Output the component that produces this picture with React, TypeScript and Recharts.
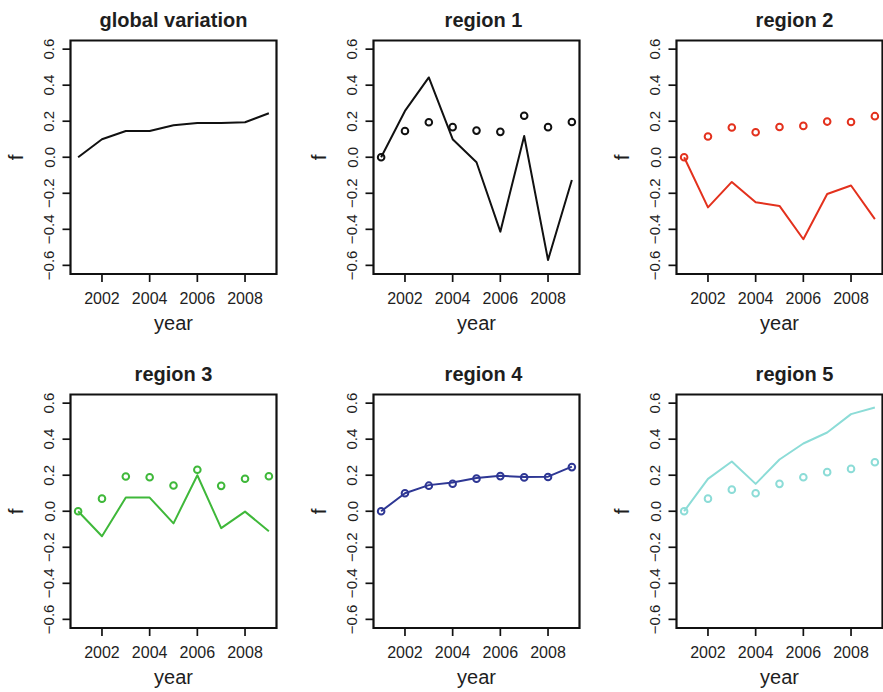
import { ComposedChart, Line, XAxis, YAxis, ReferenceArea } from 'recharts';

const years = [2001, 2002, 2003, 2004, 2005, 2006, 2007, 2008, 2009];
const xTicks = [2002, 2004, 2006, 2008];
const yTicks = [-0.6, -0.4, -0.2, 0, 0.2, 0.4, 0.6];
const yTickLabels = ['−0.6', '−0.4', '−0.2', '0.0', '0.2', '0.4', '0.6'];

const titles = ['global variation', 'region 1', 'region 2', 'region 3', 'region 4', 'region 5'];
const colors = ['#111111', '#111111', '#E3311D', '#3FB83A', '#2E3794', '#8CDCD7'];

const globalFit = [0, 0.1, 0.146, 0.146, 0.178, 0.19, 0.19, 0.194, 0.244];
const region1Fit = [0, 0.257, 0.443, 0.1, -0.028, -0.413, 0.118, -0.57, -0.126];
const region1Obs = [0, 0.146, 0.194, 0.167, 0.148, 0.141, 0.23, 0.167, 0.196];
const region2Fit = [0, -0.278, -0.137, -0.25, -0.27, -0.455, -0.204, -0.157, -0.343];
const region2Obs = [0, 0.115, 0.165, 0.139, 0.168, 0.174, 0.198, 0.196, 0.228];
const region3Fit = [0, -0.139, 0.076, 0.076, -0.067, 0.2, -0.094, -0.002, -0.111];
const region3Obs = [0, 0.07, 0.193, 0.189, 0.143, 0.23, 0.141, 0.18, 0.194];
const region4Fit = [0, 0.1, 0.145, 0.16, 0.185, 0.197, 0.19, 0.192, 0.248];
const region4Obs = [0, 0.1, 0.142, 0.153, 0.181, 0.195, 0.188, 0.19, 0.245];
const region5Fit = [0, 0.18, 0.276, 0.152, 0.287, 0.376, 0.437, 0.539, 0.576];
const region5Obs = [0, 0.07, 0.12, 0.1, 0.152, 0.189, 0.217, 0.235, 0.272];

const fits = [globalFit, region1Fit, region2Fit, region3Fit, region4Fit, region5Fit];
const obs: (number[] | null)[] = [null, region1Obs, region2Obs, region3Obs, region4Obs, region5Obs];

const FONT = '"Liberation Sans", Arial, Helvetica, sans-serif';
const TEXT = '#1e1e1e';
const colLeft = [0, 302.5, 605.5];
const rowTop = [0, 353.5];
const titleDx = [0, 7, 15];
const PLOT_W = 206;
const PLOT_H = 233.5;

function YTick({ x, y, payload }: any) {
  const i = yTicks.indexOf(payload.value);
  return (
    <text
      x={x}
      y={y}
      transform={`rotate(-90 ${x} ${y})`}
      textAnchor="middle"
      fontSize={15}
      fontFamily={FONT}
      fill={TEXT}
    >
      {i >= 0 ? yTickLabels[i] : payload.value}
    </text>
  );
}

function XTick({ x, y, payload }: any) {
  return (
    <text x={x} y={y + 22} textAnchor="middle" fontSize={16} fontFamily={FONT} fill={TEXT}>
      {payload.value}
    </text>
  );
}

function PanelText({ viewBox, title, col }: any) {
  const { x, y, width, height } = viewBox;
  const fx = x - 48;
  const fy = y + height / 2;
  return (
    <g fontFamily={FONT} fill={TEXT}>
      <text x={x + width / 2 + titleDx[col]} y={y - 14} textAnchor="middle" fontSize={20} fontWeight="bold">
        {title}
      </text>
      <text x={fx} y={fy} transform={`rotate(-90 ${fx} ${fy})`} textAnchor="middle" fontSize={21}>
        f
      </text>
      <text x={x + width / 2} y={y + height + 56} textAnchor="middle" fontSize={20}>
        year
      </text>
    </g>
  );
}

function Panel({ index }: { index: number }) {
  const col = index % 3;
  const row = Math.floor(index / 3);
  const width = col === 2 ? 277.5 : 300;
  const height = 338;
  const color = colors[index];
  const points = obs[index];
  const data = years.map((year, i) => ({
    year,
    fit: fits[index][i],
    obs: points ? points[i] : null,
  }));

  return (
    <div style={{ position: 'absolute', left: colLeft[col], top: rowTop[row] }}>
      <ComposedChart
        width={width}
        height={height}
        data={data}
        margin={{ top: 40.5, left: 30.5, right: width - 70.5 - PLOT_W, bottom: height - 40.5 - PLOT_H - 30 }}
      >
        <XAxis
          dataKey="year"
          type="number"
          domain={[2000.68, 2009.32]}
          allowDataOverflow
          ticks={xTicks}
          height={30}
          axisLine={false}
          tickSize={8}
          tickMargin={0}
          tickLine={{ stroke: '#111', strokeWidth: 1.7 }}
          tick={<XTick />}
          interval={0}
        />
        <YAxis
          type="number"
          domain={[-0.648, 0.648]}
          allowDataOverflow
          ticks={yTicks}
          width={40}
          axisLine={false}
          tickSize={8}
          tickMargin={8}
          tickLine={{ stroke: '#111', strokeWidth: 1.7 }}
          tick={<YTick />}
          interval={0}
        />
        <Line
          dataKey="fit"
          stroke={color}
          strokeWidth={2}
          strokeLinejoin="round"
          dot={false}
          activeDot={false}
          isAnimationActive={false}
        />
        {points && (
          <Line
            dataKey="obs"
            stroke="none"
            dot={{ r: 3.3, stroke: color, strokeWidth: 2, fill: 'none' }}
            activeDot={false}
            isAnimationActive={false}
          />
        )}
        <ReferenceArea
          x1={2000.68}
          x2={2009.32}
          y1={-0.648}
          y2={0.648}
          fill="none"
          stroke="#111"
          strokeWidth={2.2}
          ifOverflow="visible"
          label={<PanelText title={titles[index]} col={col} />}
        />
      </ComposedChart>
    </div>
  );
}

export default function App() {
  return (
    <div
      style={{
        position: 'absolute',
        left: 0,
        top: 0,
        width: 883,
        height: 692,
        overflow: 'hidden',
        background: '#fff',
      }}
    >
      {titles.map((_, i) => (
        <Panel key={i} index={i} />
      ))}
    </div>
  );
}
